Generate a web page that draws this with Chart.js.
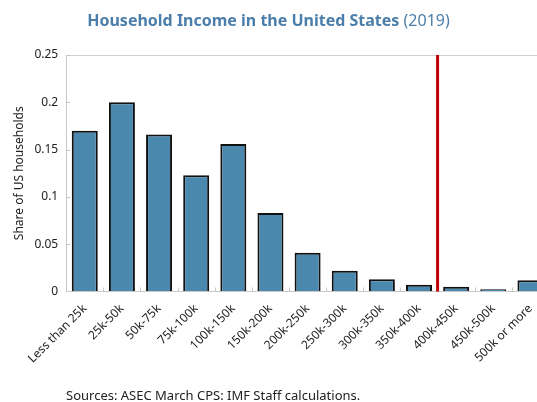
<!DOCTYPE html>
<html>
<head>
<meta charset="utf-8">
<script src="https://cdn.jsdelivr.net/npm/chart.js@4.4.1/dist/chart.umd.min.js"></script>
<style>
  body { margin: 0; width: 537px; height: 402px; overflow: hidden; background: #fff; font-family: "Noto Sans", sans-serif; }
  #wrap { position: absolute; left: 0; top: 0; width: 560px; height: 402px; }
  #title { position: absolute; top: 9px; left: 0; width: 537px; text-align: center; font-size: 16px; font-weight: bold; color: #4b7eaa; }
  #title span { font-weight: normal; }
  #source { position: absolute; top: 386px; left: 66px; font-size: 13px; color: #222; }
</style>
</head>
<body>
<div id="wrap"><canvas id="chart"></canvas></div>
<div id="title">Household Income in the United States <span>(2019)</span></div>
<div id="source">Sources: ASEC March CPS: IMF Staff calculations.</div>
<script>
// income brackets
const categories = ['Less than 25k', '25k-50k', '50k-75k', '75k-100k', '100k-150k', '150k-200k',
  '200k-250k', '250k-300k', '300k-350k', '350k-400k', '400k-450k', '450k-500k', '500k or more'];
// share of households in each bracket
const shares = [0.170, 0.200, 0.166, 0.123, 0.156, 0.083, 0.041, 0.022, 0.013, 0.007, 0.005, 0.0025, 0.012];
const yTicks = [0, 0.05, 0.1, 0.15, 0.2, 0.25];
// red line sits between these two brackets
const markerBetween = ['350k-400k', '400k-450k'];

const canvas = document.getElementById('chart');
canvas.width = 560;
canvas.height = 402;

// red threshold line + small inside ticks
const extras = {
  id: 'extras',
  afterDatasetsDraw(chart) {
    const ctx = chart.ctx;
    const area = chart.chartArea;
    const x = chart.scales.x;
    const y = chart.scales.y;
    ctx.save();
    ctx.strokeStyle = '#c8c8c8';
    ctx.lineWidth = 1;
    // y ticks pointing into the plot
    yTicks.forEach(v => {
      const py = Math.round(y.getPixelForValue(v)) + 0.5;
      ctx.beginPath();
      ctx.moveTo(area.left, py);
      ctx.lineTo(area.left + 4, py);
      ctx.stroke();
    });
    // x ticks at category boundaries
    for (let i = 1; i < categories.length; i++) {
      const px = Math.round((x.getPixelForValue(i - 1) + x.getPixelForValue(i)) / 2) + 0.5;
      ctx.beginPath();
      ctx.moveTo(px, area.bottom);
      ctx.lineTo(px, area.bottom - 4);
      ctx.stroke();
    }
    const a = categories.indexOf(markerBetween[0]);
    const b = categories.indexOf(markerBetween[1]);
    const mx = (x.getPixelForValue(a) + x.getPixelForValue(b)) / 2;
    ctx.strokeStyle = '#c00000';
    ctx.lineWidth = 3;
    ctx.beginPath();
    ctx.moveTo(mx, area.top);
    ctx.lineTo(mx, area.bottom);
    ctx.stroke();
    ctx.restore();
  }
};

new Chart(canvas, {
  type: 'bar',
  data: {
    labels: categories,
    datasets: [{
      data: shares,
      backgroundColor: '#4a89ad',
      borderColor: '#111',
      borderWidth: 2,
      categoryPercentage: 0.7,
      barPercentage: 1.0
    }]
  },
  options: {
    responsive: false,
    animation: false,
    layout: { padding: { top: 55, right: 11, left: 12, bottom: 34 } },
    plugins: { legend: { display: false }, tooltip: { enabled: false } },
    scales: {
      x: {
        grid: { display: false },
        border: { color: '#c8c8c8' },
        ticks: { color: '#222', font: { family: 'Noto Sans', size: 12 }, maxRotation: 45, minRotation: 45, padding: 2 }
      },
      y: {
        min: 0,
        max: 0.25,
        afterBuildTicks(scale) { scale.ticks = yTicks.map(v => ({ value: v })); },
        grid: {
          drawTicks: false,
          color: ctx => (ctx.tick && ctx.tick.value === 0.25 ? '#d0d0d0' : 'rgba(0,0,0,0)')
        },
        border: { color: '#c8c8c8' },
        ticks: { color: '#222', font: { family: 'Noto Sans', size: 12 }, padding: 8, callback: v => String(v) },
        title: { display: true, text: 'Share of US households', color: '#222', font: { family: 'Noto Sans', size: 12 }, padding: 0 }
      }
    }
  },
  plugins: [extras]
});
</script>
</body>
</html>
